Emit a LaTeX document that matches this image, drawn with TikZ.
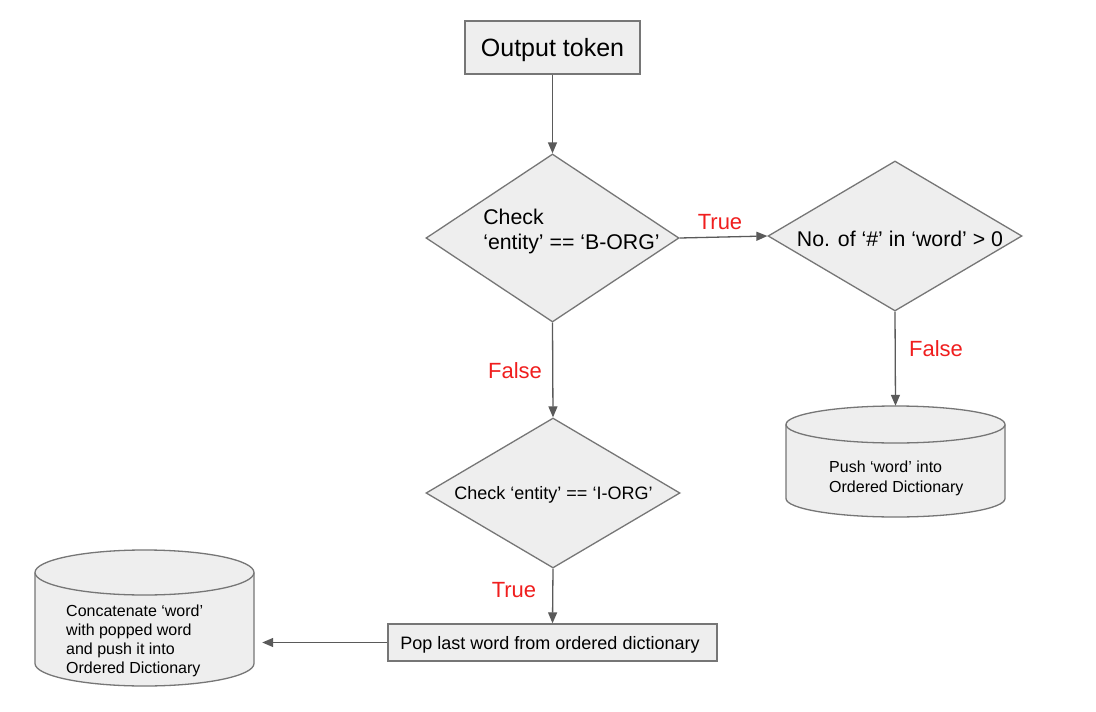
\documentclass[tikz,border=0pt]{standalone}
\usepackage{fontspec}
\setmainfont{Liberation Sans}
\usetikzlibrary{shapes.geometric,arrows.meta}
\definecolor{boxfill}{RGB}{238,238,238}
\definecolor{boxline}{RGB}{118,118,118}
\definecolor{arrowc}{RGB}{90,90,90}
\definecolor{lblred}{RGB}{240,30,30}
\tikzset{
  procbox/.style={draw=boxline, fill=boxfill, line width=1.3pt, rectangle, inner sep=0pt},
  decision/.style={draw=boxline, fill=boxfill, line width=1.3pt, diamond, inner sep=0pt},
  cylshape/.style={draw=boxline, fill=boxfill, line width=1.3pt},
  cylarea/.style={rectangle, draw=none, inner sep=0pt},
  txt/.style={inner sep=0pt, align=left, text=black},
  flow/.style={draw=arrowc, line width=1.3pt, -{Triangle[length=11pt,width=9pt]}},
  lbl/.style={text=lblred, inner sep=0pt, font=\fontsize{22}{26}\selectfont},
}
\begin{document}
\begin{tikzpicture}[x=1pt,y=-1pt]
\useasboundingbox (0,0) rectangle (1096,712);
\fill[white] (0,0) rectangle (1096,712);

% Output token
\node[procbox, minimum width=175, minimum height=53] (out) at (552.5,47.5) {};
\node[txt, font=\fontsize{25}{29}\selectfont] (outt) at (552.5,50) {Output token};

% Decision 1
\node[decision, minimum width=253, minimum height=168] (d1) at (552.5,238) {};
\node[txt, font=\fontsize{21.3}{25}\selectfont] (d1t) at (571.5,231) {Check\\‘entity’ == ‘B-ORG’};

% Decision 2
\node[decision, minimum width=254, minimum height=150] (d2) at (895,236) {};
\node[txt, font=\fontsize{21.3}{25}\selectfont] (d2t) at (900,239) {No. of ‘\#’ in ‘word’ > 0};

% Decision 3
\node[decision, minimum width=254, minimum height=150] (d3) at (553,493) {};
\node[txt, font=\fontsize{18}{21}\selectfont] (d3t) at (553.5,495) {Check ‘entity’ == ‘I-ORG’};

% Pop box
\node[procbox, minimum width=329, minimum height=37] (pop) at (552.5,642.5) {};
\node[txt, font=\fontsize{18}{21}\selectfont] (popt) at (550,645) {Pop last word from ordered dictionary};

% Right cylinder
\fill[boxfill] (786,424.5) -- (786,498.5) arc[start angle=180,end angle=0,x radius=109.5,y radius=18.5] -- (1005,424.5) -- cycle;
\draw[boxline, line width=1.3pt] (786,424.5) -- (786,498.5) arc[start angle=180,end angle=0,x radius=109.5,y radius=18.5] -- (1005,424.5);
\draw[cylshape] (895.5,424.5) ellipse[x radius=109.5, y radius=18.5];
\node[cylarea, minimum width=219, minimum height=111] (push) at (895.5,461.5) {};
\node[txt, anchor=west, font=\fontsize{16}{20}\selectfont] (pusht) at (829,478) {Push ‘word’ into\\Ordered Dictionary};

% Left cylinder
\fill[boxfill] (35,572.5) -- (35,663.5) arc[start angle=180,end angle=0,x radius=109.5,y radius=22.5] -- (254,572.5) -- cycle;
\draw[boxline, line width=1.3pt] (35,572.5) -- (35,663.5) arc[start angle=180,end angle=0,x radius=109.5,y radius=22.5] -- (254,572.5);
\draw[cylshape] (144.5,572.5) ellipse[x radius=109.5, y radius=22.5];
\node[cylarea, minimum width=219, minimum height=136] (concat) at (144.5,618) {};
\node[txt, anchor=west, font=\fontsize{16}{19}\selectfont] (concatt) at (66,640.5) {Concatenate ‘word’\\with popped word\\and push it into\\Ordered Dictionary};

% Connectors
\draw[flow] (out.south) -- (d1.north);
\draw[flow] (d1.east) -- (d2.west);
\draw[flow] (d1.south) -- (d3.north);
\draw[flow] (d2.south) -- (push.north);
\draw[flow] (d3.south) -- (pop.north);
\draw[flow, shorten >=8pt] (pop.west) -- (concat.east |- pop.west);

% Labels
\node[lbl] (t1) at (720,222) {True};
\node[lbl] (f1) at (515,371) {False};
\node[lbl] (f2) at (936,349) {False};
\node[lbl] (t2) at (514,590) {True};
\end{tikzpicture}
\end{document}
